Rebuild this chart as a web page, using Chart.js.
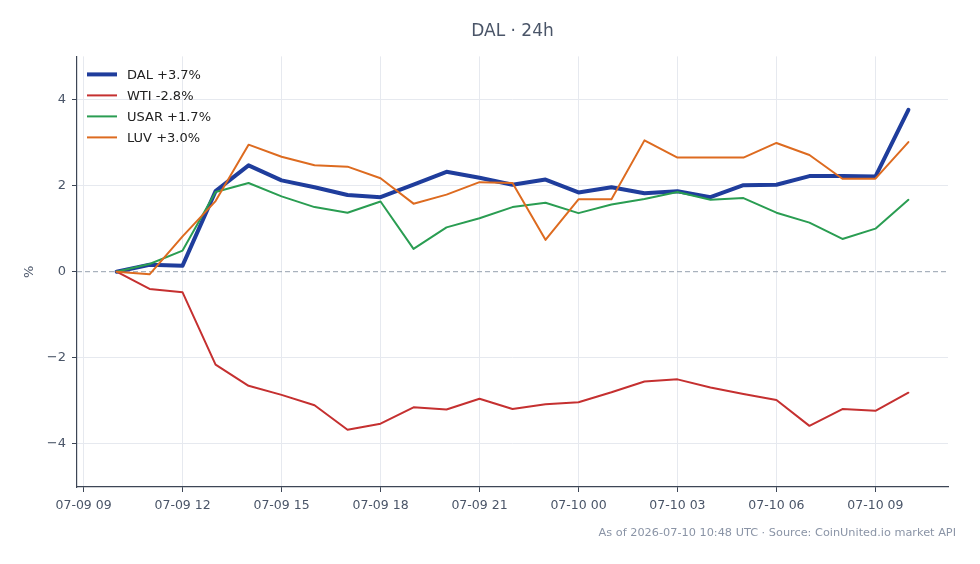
<!DOCTYPE html>
<html>
<head>
<meta charset="utf-8">
<script src="https://cdn.jsdelivr.net/npm/chart.js@4.4.1/dist/chart.umd.min.js"></script>
<style>
  html, body { margin: 0; padding: 0; background: #fff; }
  #wrap { width: 980px; height: 564px; position: relative; }
</style>
</head>
<body>
<div id="wrap"><canvas id="c"></canvas></div>
<script>
// hours since 07-09 00:00 UTC
const hours = [10, 11, 12, 13, 14, 15, 16, 17, 18, 19, 20, 21, 22, 23, 24, 25, 26, 27, 28, 29, 30, 31, 32, 33, 34];

const dal  = [0, 0.16, 0.14, 1.87, 2.47, 2.12, 1.96, 1.78, 1.73, 2.02, 2.32, 2.18, 2.02, 2.14, 1.84, 1.96, 1.82, 1.87, 1.73, 2.01, 2.02, 2.22, 2.22, 2.21, 3.76];
const wti  = [0, -0.40, -0.48, -2.16, -2.65, -2.86, -3.10, -3.67, -3.53, -3.15, -3.20, -2.95, -3.19, -3.08, -3.03, -2.80, -2.55, -2.50, -2.69, -2.84, -2.98, -3.58, -3.19, -3.23, -2.81];
const usar = [0, 0.18, 0.49, 1.85, 2.06, 1.75, 1.50, 1.37, 1.63, 0.53, 1.03, 1.24, 1.50, 1.60, 1.36, 1.56, 1.69, 1.85, 1.67, 1.71, 1.37, 1.14, 0.76, 1.00, 1.67];
const luv  = [0, -0.06, 0.82, 1.64, 2.95, 2.67, 2.47, 2.44, 2.17, 1.58, 1.79, 2.08, 2.06, 0.74, 1.68, 1.68, 3.05, 2.65, 2.65, 2.65, 2.99, 2.71, 2.16, 2.16, 3.01];

const seriesLabels = ['DAL +3.7%', 'WTI -2.8%', 'USAR +1.7%', 'LUV +3.0%'];
const xTicks = [9, 12, 15, 18, 21, 24, 27, 30, 33];
const yTicks = [-4, -2, 0, 2, 4];
const footnote = 'As of 2026-07-10 10:48 UTC \u00b7 Source: CoinUnited.io market API';

const INK = '#4a5568';
const GRID = '#e6e9ef';
const AXIS = '#3d4656';

Chart.defaults.font.family = '"DejaVu Sans", sans-serif';

function pad2(n) { return String(n).padStart(2, '0'); }
function hourLabel(h) {
  const day = 9 + Math.floor(h / 24);
  return '07-' + pad2(day) + ' ' + pad2(h % 24);
}
function pts(vals) { return vals.map((v, i) => ({ x: hours[i], y: v })); }

const zeroLine = {
  id: 'zeroLine',
  beforeDatasetsDraw(chart) {
    const { ctx, chartArea } = chart;
    const y = chart.scales.y.getPixelForValue(0);
    ctx.save();
    ctx.strokeStyle = '#96a0ae';
    ctx.lineWidth = 1;
    ctx.setLineDash([5, 3]);
    ctx.beginPath();
    ctx.moveTo(chartArea.left, y);
    ctx.lineTo(chartArea.right, y);
    ctx.stroke();
    ctx.restore();
  }
};

const insideLegend = {
  id: 'insideLegend',
  afterDatasetsDraw(chart) {
    const { ctx, chartArea } = chart;
    ctx.save();
    ctx.font = '13px "DejaVu Sans", sans-serif';
    ctx.textBaseline = 'middle';
    chart.data.datasets.forEach((d, i) => {
      const y = chartArea.top + 18 + i * 21;
      ctx.strokeStyle = d.borderColor;
      ctx.lineWidth = d.borderWidth;
      ctx.beginPath();
      ctx.moveTo(chartArea.left + 10, y);
      ctx.lineTo(chartArea.left + 40, y);
      ctx.stroke();
      ctx.fillStyle = '#222';
      ctx.fillText(d.label, chartArea.left + 50, y + 1);
    });
    ctx.restore();
  }
};

const footer = {
  id: 'footer',
  afterDraw(chart) {
    const { ctx } = chart;
    ctx.save();
    ctx.font = '11.3px "DejaVu Sans", sans-serif';
    ctx.fillStyle = '#8a94a6';
    ctx.textAlign = 'right';
    ctx.textBaseline = 'middle';
    ctx.fillText(footnote, chart.width - 24, 533);
    ctx.restore();
  }
};

new Chart(document.getElementById('c'), {
  type: 'line',
  data: {
    datasets: [
      { label: seriesLabels[0], data: pts(dal),  borderColor: '#1f3d9c', borderWidth: 4, order: 4 },
      { label: seriesLabels[1], data: pts(wti),  borderColor: '#c53030', borderWidth: 2, order: 3 },
      { label: seriesLabels[2], data: pts(usar), borderColor: '#2a9d52', borderWidth: 2, order: 2 },
      { label: seriesLabels[3], data: pts(luv),  borderColor: '#dd6b20', borderWidth: 2, order: 1 },
    ],
  },
  options: {
    responsive: true,
    maintainAspectRatio: false,
    animation: false,
    elements: { point: { radius: 0 }, line: { tension: 0, borderCapStyle: 'round', borderJoinStyle: 'round' } },
    layout: { padding: { left: 0, right: 32, top: 10, bottom: 47 } },
    plugins: {
      legend: { display: false },
      tooltip: { enabled: false },
      title: {
        display: true,
        text: 'DAL \u00b7 24h',
        fullSize: false,
        color: INK,
        font: { size: 17, weight: 'normal' },
        padding: { top: 11, bottom: 15 },
      },
    },
    scales: {
      x: {
        type: 'linear',
        min: 8.8,
        max: 35.2,
        afterBuildTicks: s => { s.ticks = xTicks.map(v => ({ value: v })); },
        afterFit: s => { s.height = 30; },
        grid: { color: GRID, tickColor: AXIS, tickLength: 5 },
        border: { color: AXIS, width: 1.2 },
        ticks: { color: INK, font: { size: 12.5 }, padding: 6, maxRotation: 0, callback: v => hourLabel(v) },
      },
      y: {
        min: -5,
        max: 5,
        afterBuildTicks: s => { s.ticks = yTicks.map(v => ({ value: v })); },
        afterFit: s => { s.width = 77; },
        grid: { color: c => (c.tick && c.tick.value === 0 ? 'rgba(0,0,0,0)' : GRID), tickColor: AXIS, tickLength: 5 },
        border: { color: AXIS, width: 1.2 },
        ticks: { color: INK, font: { size: 13 }, padding: 6, callback: v => String(v).replace('-', '\u2212') },
        title: { display: true, text: '%', color: INK, font: { size: 13 }, padding: { top: 22, bottom: 0 } },
      },
    },
  },
  plugins: [zeroLine, insideLegend, footer],
});
</script>
</body>
</html>
